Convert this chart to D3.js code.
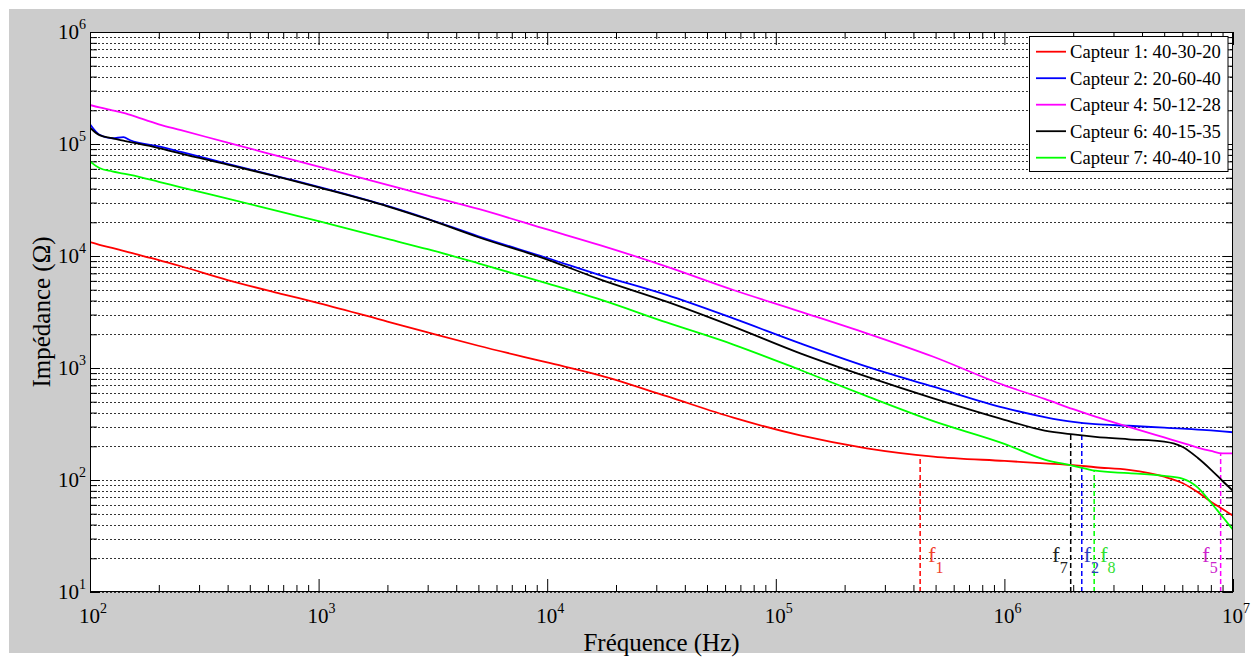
<!DOCTYPE html>
<html>
<head>
<meta charset="utf-8">
<script src="https://cdn.jsdelivr.net/npm/d3@7"></script>
<style>
  html, body { margin: 0; padding: 0; background: #ffffff; }
  svg { display: block; font-family: "Liberation Serif", "Times New Roman", serif; }
</style>
</head>
<body>
<svg id="chart" width="1252" height="659"></svg>
<script>
// ---------- data ----------
const freq = [100,110,125,140,150,200,250,400,700,1e3,2e3,3e3,5e3,1e4,1.7e4,3.33e4,6.52e4,1.28e5,2.5e5,4.89e5,1e6,1.5e6,2e6,2.5e6,3.5e6,5e6,6e6,7e6,8e6,9e6,1e7];
const capteur1 = [13300,12600,11800,11100,10700,9200,8100,6100,4550,3800,2600,2080,1580,1120,860,560,360,250,192,162,148,141,136,130,123,107,94,78,64,55,48];
const capteur2 = [150000,121000,112500,115000,108000,95000,85000,66600,49900,41500,28000,21500,15000,9600,6760,4490,2770,1660,1030,681,440,365,330,315,305,293,288,282,277,272,267];
const capteur4 = [223000,212000,200000,190000,182000,150000,133000,102700,76000,62700,43100,34600,26300,17250,12500,8040,4970,3190,2040,1260,700,530,429,368,298,240,215,195,182,173,173];
const capteur6 = [140000,120000,113000,107000,104000,92000,82000,65500,49500,41000,27800,21300,14700,9300,6190,3910,2340,1350,836,535,345,276,255,243,231,220,198,158,124,98,80];
const capteur7 = [70000,61000,57000,54500,53000,46000,41000,32500,24500,20500,14200,11500,8600,5700,4100,2550,1620,960,560,335,210,152,134,121,115,109,103,86,63,47,36];

const seriesNames = ["Capteur 1: 40-30-20","Capteur 2: 20-60-40","Capteur 4: 50-12-28","Capteur 6: 40-15-35","Capteur 7: 40-40-10"];
const seriesValues = [capteur1, capteur2, capteur4, capteur6, capteur7];
const seriesColors = ["#ff0000","#0000ff","#ff00ff","#000000","#00ff00"];

// cut-off frequency markers
const markerSub = ["1","7","2","8","5"];
const markerFreq = [4.28e5, 1.95e6, 2.18e6, 2.47e6, 8.83e6];
const markerSeries = [0, 3, 1, 4, 2];
const markerSide = ["right","left","right","right","left"];
const markerLabelColors = ["#f0402a","#222222","#2a3cc0","#30e030","#cc22cc"];

const xDecades = [1e2,1e3,1e4,1e5,1e6,1e7];
const yDecades = [1e1,1e2,1e3,1e4,1e5,1e6];

// ---------- layout ----------
const L = 90, R = 1233, T = 32, B = 592;
const svg = d3.select("#chart");

svg.append("rect").attr("x", 9).attr("y", 9).attr("width", 1236).attr("height", 644).attr("fill", "#cccccc");
svg.append("rect").attr("x", L).attr("y", T).attr("width", R - L).attr("height", B - T).attr("fill", "#ffffff");

const x = d3.scaleLog().domain([1e2, 1e7]).range([L, R]);
const y = d3.scaleLog().domain([1e1, 1e6]).range([B, T]);

function minors(decs) {
  const out = [];
  for (let i = 0; i < decs.length - 1; i++) for (let m = 2; m <= 9; m++) out.push(decs[i] * m);
  return out;
}
const xMinor = minors(xDecades), yMinor = minors(yDecades);
const yAll = yDecades.concat(yMinor);

// horizontal grid (dotted)
svg.append("g").selectAll("line").data(yAll).join("line")
  .attr("x1", L).attr("x2", R)
  .attr("y1", d => Math.round(y(d)) + 0.5).attr("y2", d => Math.round(y(d)) + 0.5)
  .attr("stroke", "#333").attr("stroke-width", 1).attr("stroke-dasharray", "2,2");

// axes ticks (inward)
function styleAxis(g) {
  g.select(".domain").remove();
  g.selectAll(".tick line").attr("stroke", "#000");
  g.selectAll("text").remove();
}
svg.append("g").attr("transform", `translate(0,${B})`).call(d3.axisBottom(x).tickValues(xDecades).tickSize(-13)).call(styleAxis);
svg.append("g").attr("transform", `translate(0,${B})`).call(d3.axisBottom(x).tickValues(xMinor).tickSize(-7)).call(styleAxis);
svg.append("g").attr("transform", `translate(0,${T})`).call(d3.axisTop(x).tickValues(xDecades).tickSize(-13)).call(styleAxis);
svg.append("g").attr("transform", `translate(0,${T})`).call(d3.axisTop(x).tickValues(xMinor).tickSize(-7)).call(styleAxis);
svg.append("g").attr("transform", `translate(${L},0)`).call(d3.axisLeft(y).tickValues(yDecades).tickSize(-10)).call(styleAxis);
svg.append("g").attr("transform", `translate(${L},0)`).call(d3.axisLeft(y).tickValues(yMinor).tickSize(-7)).call(styleAxis);
svg.append("g").attr("transform", `translate(${R},0)`).call(d3.axisRight(y).tickValues(yDecades).tickSize(-10)).call(styleAxis);
svg.append("g").attr("transform", `translate(${R},0)`).call(d3.axisRight(y).tickValues(yMinor).tickSize(-7)).call(styleAxis);

// clip
svg.append("defs").append("clipPath").attr("id", "plotclip")
  .append("rect").attr("x", L).attr("y", T).attr("width", R - L).attr("height", B - T);

// interpolation in log-log to find curve value at a marker frequency
function valueAt(vals, f) {
  const lf = Math.log10(f);
  for (let i = 0; i < freq.length - 1; i++) {
    const a = Math.log10(freq[i]), b = Math.log10(freq[i + 1]);
    if (lf >= a && lf <= b) {
      const t = (lf - a) / (b - a);
      return Math.pow(10, Math.log10(vals[i]) * (1 - t) + Math.log10(vals[i + 1]) * t);
    }
  }
  return vals[vals.length - 1];
}

// marker dashed lines
const plot = svg.append("g").attr("clip-path", "url(#plotclip)");
markerFreq.forEach((f, i) => {
  const s = markerSeries[i];
  plot.append("line")
    .attr("x1", x(f)).attr("x2", x(f))
    .attr("y1", B).attr("y2", y(valueAt(seriesValues[s], f)))
    .attr("stroke", seriesColors[s]).attr("stroke-width", 1.5).attr("stroke-dasharray", "5,3");
});

// curves
const line = d3.line().x(d => x(d[0])).y(d => y(d[1])).curve(d3.curveMonotoneX);
seriesValues.forEach((vals, i) => {
  plot.append("path")
    .datum(freq.map((f, j) => [f, vals[j]]))
    .attr("d", line)
    .attr("fill", "none")
    .attr("stroke", seriesColors[i])
    .attr("stroke-width", 1.8)
    .attr("stroke-linejoin", "round");
});

// marker labels
markerFreq.forEach((f, i) => {
  const left = markerSide[i] === "left";
  const t = svg.append("text")
    .attr("x", left ? x(f) - 3 : x(f) + (i === 0 ? 8 : (i === 3 ? 6 : 2)))
    .attr("y", 562)
    .attr("text-anchor", left ? "end" : "start")
    .attr("fill", markerLabelColors[i])
    .attr("font-size", 22);
  t.append("tspan").text("f");
  t.append("tspan").attr("font-size", 16).attr("dy", 11).text(markerSub[i]);
});

// frame
svg.append("rect").attr("x", L + 0.5).attr("y", T + 0.5).attr("width", R - L - 1).attr("height", B - T - 1)
  .attr("fill", "none").attr("stroke", "#000").attr("stroke-width", 1);

// tick labels with superscripts
xDecades.forEach(d => {
  const t = svg.append("text").attr("x", x(d) + 3).attr("y", 623).attr("text-anchor", "middle")
    .attr("font-size", 21).attr("fill", "#000");
  t.append("tspan").text("10");
  t.append("tspan").attr("font-size", 14).attr("dy", -10).text(String(Math.round(Math.log10(d))));
});
yDecades.forEach(d => {
  const t = svg.append("text").attr("x", 86).attr("y", y(d) + 7).attr("text-anchor", "end")
    .attr("font-size", 21).attr("fill", "#000");
  t.append("tspan").text("10");
  t.append("tspan").attr("font-size", 14).attr("dy", -10).text(String(Math.round(Math.log10(d))));
});

// axis titles
svg.append("text").attr("x", (L + R) / 2).attr("y", 651).attr("text-anchor", "middle")
  .attr("font-size", 25).attr("fill", "#000").text("Fréquence (Hz)");
svg.append("text").attr("transform", `translate(50,${(T + B) / 2}) rotate(-90)`).attr("text-anchor", "middle")
  .attr("font-size", 25).attr("fill", "#000").text("Impédance (Ω)");

// legend
const lg = svg.append("g");
lg.append("rect").attr("x", 1029.5).attr("y", 36.5).attr("width", 198.5).attr("height", 135)
  .attr("fill", "#fff").attr("stroke", "#000").attr("stroke-width", 1);
seriesNames.forEach((n, i) => {
  const cy = 51.7 + i * 26.5;
  lg.append("line").attr("x1", 1036).attr("x2", 1066).attr("y1", cy).attr("y2", cy)
    .attr("stroke", seriesColors[i]).attr("stroke-width", 1.8);
  lg.append("text").attr("x", 1070).attr("y", cy + 6.5).attr("font-size", 18.6).attr("fill", "#000").text(n);
});
</script>
</body>
</html>
